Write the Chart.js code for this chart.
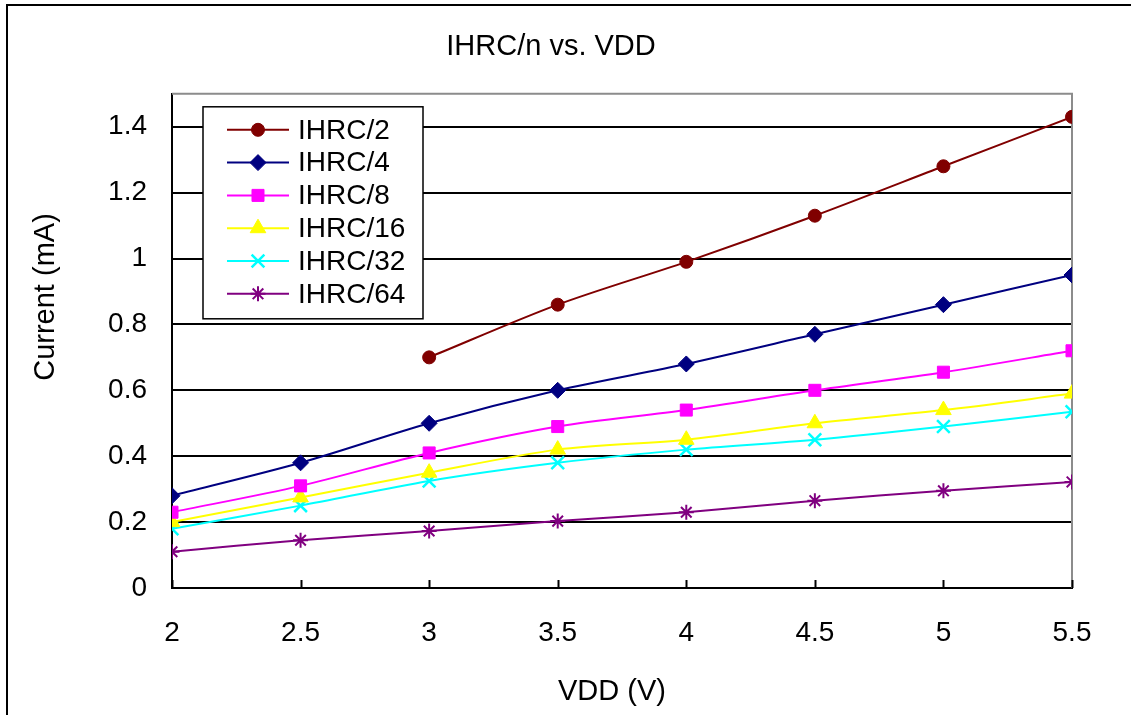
<!DOCTYPE html>
<html>
<head>
<meta charset="utf-8">
<script src="https://cdn.jsdelivr.net/npm/chart.js@4.4.1/dist/chart.umd.min.js"></script>
<style>
  html, body { margin: 0; padding: 0; background: #fff; overflow: hidden; }
  #frame { position: absolute; left: 6px; top: 4px; width: 1400px; height: 900px;
           border-left: 2px solid #000; border-top: 2px solid #000; }
  #wrap { position: absolute; left: 0; top: 0; width: 1088px; height: 709px; }
</style>
</head>
<body>
<div id="frame"><div id="wrap"><canvas id="ihrcChart"></canvas></div></div>
<script>
// VDD (V) on the x axis
const vdd = [2, 2.5, 3, 3.5, 4, 4.5, 5, 5.5];

// current in mA
const ihrc2  = [null, null, 0.70, 0.86, 0.99, 1.13, 1.28, 1.43];
const ihrc4  = [0.28, 0.38, 0.50, 0.60, 0.68, 0.77, 0.86, 0.95];
const ihrc8  = [0.23, 0.31, 0.41, 0.49, 0.54, 0.60, 0.655, 0.72];
const ihrc16 = [0.20, 0.275, 0.35, 0.42, 0.45, 0.50, 0.54, 0.59];
const ihrc32 = [0.18, 0.25, 0.325, 0.38, 0.42, 0.45, 0.49, 0.535];
const ihrc64 = [0.11, 0.145, 0.173, 0.203, 0.23, 0.265, 0.295, 0.322];

const seriesNames = ['IHRC/2', 'IHRC/4', 'IHRC/8', 'IHRC/16', 'IHRC/32', 'IHRC/64'];
const seriesValues = [ihrc2, ihrc4, ihrc8, ihrc16, ihrc32, ihrc64];

const colors = ['#800000', '#000080', '#ff00ff', '#ffff00', '#00ffff', '#800080'];
const markers = ['circle', 'rectRot', 'rect', 'triangle', 'crossRot', 'star'];
const markerSize = [6.5, 8, 8.5, 9, 9, 7.5];
const markerBorder = [1, 1, 1, 1, 2.5, 2];

const FONT = 'Arial, "Liberation Sans", sans-serif';

const datasets = seriesNames.map((name, i) => ({
  label: name,
  data: vdd.map((v, j) => ({ x: v, y: seriesValues[i][j] })),
  borderColor: colors[i],
  backgroundColor: colors[i],
  borderWidth: 2,
  tension: 0.3,
  pointStyle: markers[i],
  pointRadius: markerSize[i],
  pointHoverRadius: markerSize[i],
  pointBorderWidth: markerBorder[i],
  pointBackgroundColor: colors[i],
  pointBorderColor: colors[i]
}));

// gray top/right edge of the plot area and the small inside ticks on the x axis
const plotFrame = {
  id: 'plotFrame',
  beforeDatasetsDraw(chart) {
    const { ctx, chartArea: a } = chart;
    ctx.save();
    ctx.strokeStyle = '#8c8c8c';
    ctx.lineWidth = 2;
    ctx.beginPath();
    ctx.moveTo(a.left, a.top);
    ctx.lineTo(a.right, a.top);
    ctx.lineTo(a.right, a.bottom);
    ctx.stroke();
    ctx.strokeStyle = '#000';
    const xs = chart.scales.x;
    xs.ticks.forEach(t => {
      const px = Math.round(xs.getPixelForValue(t.value)) + 0.5;
      ctx.beginPath();
      ctx.moveTo(px, a.bottom);
      ctx.lineTo(px, a.bottom - 8);
      ctx.stroke();
    });
    ctx.restore();
  }
};

// boxed legend sitting inside the plot area
const boxLegend = {
  id: 'boxLegend',
  afterDatasetsDraw(chart) {
    const { ctx, chartArea: a } = chart;
    const bx = a.left + 31, by = a.top + 13, bw = 220, bh = 212;
    ctx.save();
    ctx.fillStyle = '#fff';
    ctx.fillRect(bx, by, bw, bh);
    ctx.strokeStyle = '#000';
    ctx.lineWidth = 1.5;
    ctx.strokeRect(bx, by, bw, bh);
    ctx.font = '28px ' + FONT;
    ctx.textBaseline = 'middle';
    seriesNames.forEach((name, i) => {
      const y = by + 23 + i * 32.8;
      ctx.strokeStyle = colors[i];
      ctx.fillStyle = colors[i];
      ctx.lineWidth = 2;
      ctx.beginPath();
      ctx.moveTo(bx + 24, y);
      ctx.lineTo(bx + 86, y);
      ctx.stroke();
      ctx.lineWidth = markerBorder[i];
      Chart.helpers.drawPoint(ctx, {
        pointStyle: markers[i], rotation: 0,
        radius: markerSize[i], borderWidth: markerBorder[i]
      }, bx + 55, y);
      ctx.fillStyle = '#000';
      ctx.textAlign = 'left';
      ctx.fillText(name, bx + 95, y + 1);
    });
    ctx.restore();
  }
};

// axis titles are not centred on their axes in the original
const axisTitles = {
  id: 'axisTitles',
  afterDraw(chart) {
    const { ctx } = chart;
    ctx.save();
    ctx.font = '29px ' + FONT;
    ctx.fillStyle = '#000';
    ctx.textAlign = 'center';
    ctx.textBaseline = 'middle';
    ctx.fillText('VDD (V)', 604, 686);
    ctx.translate(38, 291);
    ctx.rotate(-Math.PI / 2);
    ctx.fillText('Current (mA)', 0, 0);
    ctx.restore();
  }
};

new Chart(document.getElementById('ihrcChart'), {
  type: 'line',
  data: { datasets: datasets },
  options: {
    responsive: true,
    maintainAspectRatio: false,
    animation: false,
    layout: { padding: { left: 0, right: 2, top: 0, bottom: 0 } },
    plugins: {
      legend: { display: false },
      tooltip: { enabled: false },
      title: {
        display: true,
        text: 'IHRC/n vs. VDD',
        color: '#000',
        font: { family: FONT, size: 29, weight: 'normal' },
        padding: { top: 24, bottom: 29 }
      }
    },
    scales: {
      x: {
        type: 'linear',
        min: 2,
        max: 5.5,
        afterFit: s => {
          s.height = 127;
          // tick padding is counted sideways too; set the side room by hand
          s.paddingLeft = 0;
          s.paddingRight = 24;
        },
        ticks: {
          stepSize: 0.5,
          padding: 28,
          color: '#000',
          font: { family: FONT, size: 28 },
          callback: v => String(v)
        },
        grid: { display: false, drawTicks: false },
        border: { color: '#000', width: 2 }
      },
      y: {
        min: 0,
        max: 1.5,
        afterFit: s => { s.width = 164; },
        ticks: {
          stepSize: 0.2,
          includeBounds: false,
          padding: 25,
          color: '#000',
          font: { family: FONT, size: 28 },
          callback: v => String(Math.round(v * 10) / 10)
        },
        grid: { color: '#000', lineWidth: 2, drawTicks: false },
        border: { color: '#000', width: 2 }
      }
    }
  },
  plugins: [plotFrame, boxLegend, axisTitles]
});
</script>
</body>
</html>
